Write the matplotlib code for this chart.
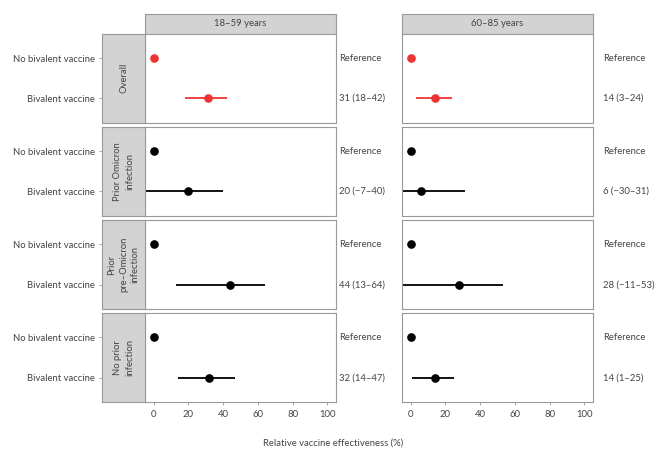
import matplotlib
matplotlib.use("Agg")
import matplotlib.pyplot as plt
from matplotlib import font_manager
from matplotlib.transforms import blended_transform_factory

# ---- data ----
groups = ["Overall", "Prior Omicron\ninfection", "Prior\npre\u2013Omicron\ninfection", "No prior\ninfection"]
age_groups = ["18\u201359 years", "60\u201385 years"]
row_labels = ["No bivalent vaccine", "Bivalent vaccine"]
# estimates [group][age] for bivalent vaccine; reference = 0
est_18_59 = [31, 20, 44, 32]
lo_18_59 = [18, -7, 13, 14]
hi_18_59 = [42, 40, 64, 47]
est_60_85 = [14, 6, 28, 14]
lo_60_85 = [3, -30, -11, 1]
hi_60_85 = [24, 31, 53, 25]
ref_value = 0
x_ticks = [0, 20, 40, 60, 80, 100]

names = {f.name for f in font_manager.fontManager.ttflist}
fam = "Liberation Sans Narrow" if "Liberation Sans Narrow" in names else "Lato"
plt.rcParams["font.family"] = [fam, "DejaVu Sans"]
FS = 6.8
TXT = "#444444"
EDGE = "#999999"
STRIP = "#d3d3d3"

W, H = 667, 459
fig = plt.figure(figsize=(W / 100, H / 100), dpi=100)

def box(x0, y0, x1, y1):
    return [x0 / W, 1 - y1 / H, (x1 - x0) / W, (y1 - y0) / H]

panel_x = [(145, 336), (402, 593)]
ann_x = [339, 603]
row_y = [(34, 122.5), (127, 215.5), (220.3, 308.7), (313.3, 402)]
estimates = [est_18_59, est_60_85]
lows = [lo_18_59, lo_60_85]
highs = [hi_18_59, hi_60_85]

for c, (x0, x1) in enumerate(panel_x):
    # column header strip
    sax = fig.add_axes(box(x0, 14, x1, 34))
    sax.set_facecolor(STRIP)
    sax.set_xticks([]); sax.set_yticks([])
    for s in sax.spines.values():
        s.set_color(EDGE); s.set_linewidth(0.8)
    sax.text(0.5, 0.5, age_groups[c], ha="center", va="center", fontsize=FS, color=TXT,
             transform=sax.transAxes)
    for r, (y0, y1) in enumerate(row_y):
        ax = fig.add_axes(box(x0, y0, x1, y1))
        ax.set_xlim(-5, 105)
        ax.set_ylim(2.6, 0.4)
        col = "#ee3333" if r == 0 else "black"
        e, lo, hi = estimates[c][r], lows[c][r], highs[c][r]
        ax.plot([lo, hi], [2, 2], color=col, lw=1.3, solid_capstyle="butt")
        ax.plot([ref_value, e], [1, 2], "o", color=col, ms=5.2, ls="none")
        ax.set_yticks([])
        for s in ax.spines.values():
            s.set_color(EDGE); s.set_linewidth(0.8)
        if r == len(row_y) - 1:
            ax.set_xticks(x_ticks)
            ax.set_xticklabels([str(t) for t in x_ticks])
            ax.tick_params(axis="x", length=2, width=0.6, color=EDGE, labelsize=FS,
                           labelcolor=TXT, pad=4)
        else:
            ax.set_xticks([])
        tr = blended_transform_factory(fig.transFigure, ax.transData)
        ax.text(ann_x[c] / W, 1, "Reference", transform=tr, ha="left", va="center",
                fontsize=FS, color=TXT)
        ax.text(ann_x[c] / W, 2, f"{e} ({lo}\u2013{hi})".replace("-", "\u2212"), transform=tr,
                ha="left", va="center", fontsize=FS, color=TXT)
        if c == 0:
            rax = fig.add_axes(box(102.3, y0, 145, y1))
            rax.set_facecolor(STRIP)
            rax.set_ylim(2.6, 0.4)
            rax.set_xticks([])
            rax.set_yticks([1, 2])
            rax.set_yticklabels(row_labels)
            rax.tick_params(axis="y", length=2, width=0.6, color=EDGE, labelsize=FS,
                            labelcolor=TXT, pad=3)
            for s in rax.spines.values():
                s.set_color(EDGE); s.set_linewidth(0.8)
            rax.text(0.5, 0.5, groups[r], rotation=90, ha="center", va="center",
                     multialignment="center", fontsize=FS, color=TXT,
                     transform=rax.transAxes, linespacing=1.4)

fig.text(333 / W, 1 - 443 / H, "Relative vaccine effectiveness (%)", ha="center",
         va="center", fontsize=FS, color=TXT)

fig.savefig("out.png", dpi=100)
